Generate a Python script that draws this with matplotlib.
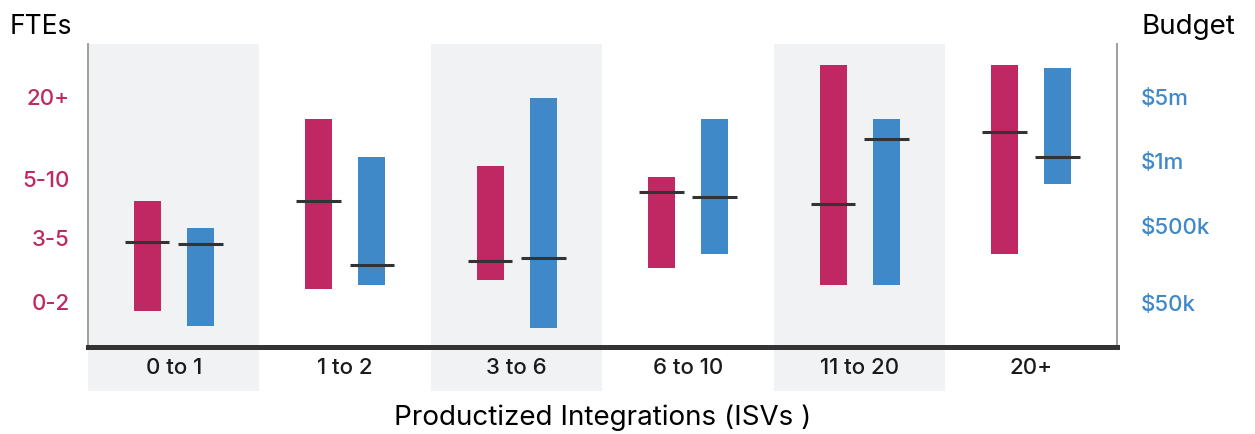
import matplotlib.pyplot as plt
import matplotlib.transforms as mtransforms

# --- Data ---
categories = ["0 to 1", "1 to 2", "3 to 6", "6 to 10", "11 to 20", "20+"]

# FTE ranges (shared 0-10 scale)
fte_low = [1.19, 1.91, 2.21, 2.61, 2.05, 3.07]
fte_high = [4.82, 7.52, 5.97, 5.61, 9.31, 9.31]
fte_median = [3.47, 4.82, 2.84, 5.12, 4.72, 7.10]

# Budget ranges (same scale)
budget_low = [0.69, 2.05, 0.63, 3.07, 2.05, 5.38]
budget_high = [3.93, 6.27, 8.22, 7.52, 7.52, 9.21]
budget_median = [3.40, 2.71, 2.94, 4.95, 6.86, 6.27]

fte_ticks = [1.49, 3.60, 5.54, 8.25]
fte_labels = ["0-2", "3-5", "5-10", "20+"]
budget_ticks = [1.45, 3.99, 6.14, 8.25]
budget_labels = ["$50k", "$500k", "$1m", "$5m"]

# --- Style ---
red = "#C02863"
blue = "#3F89C9"
band = "#F1F2F4"
dark = "#333333"
font = "Inter"
bar_w = 0.157
offset = 0.155
med_w = 0.26

fig = plt.figure(figsize=(12.55, 4.34), dpi=100)
ax = fig.add_axes([0.0701, 0.2005, 0.8199, 0.6981])
ax.set_xlim(-0.5, len(categories) - 0.5)
ax.set_ylim(0, 10)

# alternating shaded columns, running down under the labels
for i in range(0, len(categories), 2):
    ax.axvspan(i - 0.5, i + 0.5, ymin=-0.145, ymax=1, color=band,
               zorder=0, clip_on=False, lw=0)

for i in range(len(categories)):
    xr = i - offset
    xb = i + offset
    ax.bar(xr, fte_high[i] - fte_low[i], bottom=fte_low[i], width=bar_w,
           color=red, zorder=2)
    ax.bar(xb, budget_high[i] - budget_low[i], bottom=budget_low[i], width=bar_w,
           color=blue, zorder=2)
    ax.hlines(fte_median[i], xr - med_w / 2, xr + med_w / 2, color=dark,
              lw=2.2, zorder=3)
    ax.hlines(budget_median[i], xb - med_w / 2, xb + med_w / 2, color=dark,
              lw=2.2, zorder=3)

# category labels below the axis line
trans = mtransforms.blended_transform_factory(ax.transData, ax.transAxes)
for i, c in enumerate(categories):
    ax.text(i, -0.07, c, transform=trans, ha="center", va="center",
            fontsize=16, family=font, weight="medium", color="#1a1a1a")

ax.set_xticks([])
ax.set_yticks(fte_ticks)
ax.set_yticklabels(fte_labels, fontsize=16, family=font, weight="medium",
                   color=red)
ax.tick_params(axis="y", length=0, pad=13)

ax2 = ax.twinx()
ax2.set_ylim(0, 10)
ax2.set_yticks(budget_ticks)
ax2.set_yticklabels(budget_labels, fontsize=16, family=font, weight="medium",
                    color=blue)
ax2.tick_params(axis="y", length=0, pad=17)

for a in (ax, ax2):
    a.spines["top"].set_visible(False)
    a.spines["left"].set_color("#A0A0A0")
    a.spines["left"].set_linewidth(1.3)
    a.spines["right"].set_color("#A0A0A0")
    a.spines["right"].set_linewidth(1.3)
    a.spines["bottom"].set_color(dark)
    a.spines["bottom"].set_linewidth(3.6)
    a.patch.set_visible(False)

fig.text(10 / 1255, 1 - 27 / 434, "FTEs", fontsize=19, family=font,
         ha="left", va="center")
fig.text(1141 / 1255, 1 - 27 / 434, "Budget", fontsize=20, family=font,
         ha="left", va="center")
fig.text(603 / 1255, 1 - 418 / 434, "Productized Integrations (ISVs )",
         fontsize=20, family=font, ha="center", va="center")

fig.savefig("out.png", dpi=100, facecolor="white")
